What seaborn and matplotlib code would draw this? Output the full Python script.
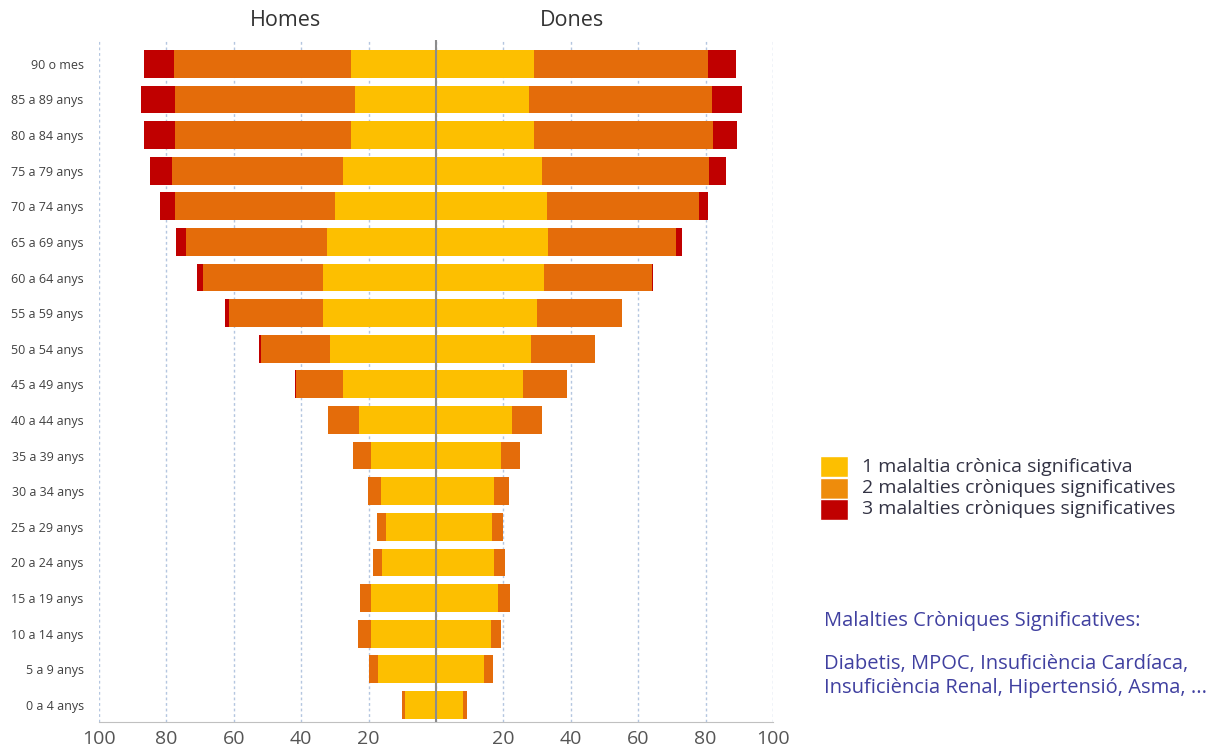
import matplotlib
matplotlib.use("Agg")
import matplotlib.pyplot as plt
from matplotlib.patches import Rectangle
import numpy as np
import pandas as pd
import seaborn as sns

# age groups, top to bottom
ages = ['90 o mes', '85 a 89 anys', '80 a 84 anys', '75 a 79 anys', '70 a 74 anys',
        '65 a 69 anys', '60 a 64 anys', '55 a 59 anys', '50 a 54 anys', '45 a 49 anys',
        '40 a 44 anys', '35 a 39 anys', '30 a 34 anys', '25 a 29 anys', '20 a 24 anys',
        '15 a 19 anys', '10 a 14 anys', '5 a 9 anys', '0 a 4 anys']

# % with 1, 2 and 3 significant chronic diseases (men = Homes)
homes_1 = [25.3, 24.0, 25.3, 27.7, 30.0, 32.2, 33.5, 33.5, 31.5, 27.7,
           22.8, 19.3, 16.3, 14.7, 16.0, 19.3, 19.3, 17.1, 9.2]
homes_2 = [52.5, 53.3, 52.0, 50.5, 47.3, 41.9, 35.7, 27.9, 20.5, 13.8,
           9.1, 5.3, 4.0, 2.8, 2.8, 3.3, 3.7, 2.7, 1.0]
homes_3 = [8.7, 10.3, 9.2, 6.7, 4.6, 3.1, 1.8, 1.1, 0.5, 0.3,
           0, 0, 0, 0, 0, 0, 0, 0, 0]

# women = Dones
dones_1 = [29.1, 27.6, 29.1, 31.4, 32.8, 33.1, 32.0, 30.1, 28.3, 25.9,
           22.5, 19.2, 17.1, 16.5, 17.3, 18.3, 16.4, 14.2, 8.1]
dones_2 = [51.6, 54.4, 53.2, 49.7, 45.1, 38.1, 32.0, 25.2, 18.8, 12.9,
           9.1, 5.7, 4.6, 3.4, 3.1, 3.7, 2.9, 2.6, 1.2]
dones_3 = [8.3, 8.7, 7.1, 4.9, 2.9, 1.9, 0.5, 0, 0, 0,
           0, 0, 0, 0, 0, 0, 0, 0, 0]

legend_labels = ['1 malaltia crònica significativa',
                 '2 malalties cròniques significatives',
                 '3 malalties cròniques significatives']

c1, c2, c3 = '#FDBF00', '#E46C0A', '#C00000'

df = pd.DataFrame({'age': ages,
                   'h1': homes_1, 'h2': homes_2, 'h3': homes_3,
                   'd1': dones_1, 'd2': dones_2, 'd3': dones_3})
# cumulative lengths, men drawn to the left (negative)
df['h_c1'] = -df['h1']
df['h_c2'] = -(df['h1'] + df['h2'])
df['h_c3'] = -(df['h1'] + df['h2'] + df['h3'])
df['d_c1'] = df['d1']
df['d_c2'] = df['d1'] + df['d2']
df['d_c3'] = df['d1'] + df['d2'] + df['d3']

sns.set_style('white')
plt.rcParams['font.family'] = ['Open Sans', 'DejaVu Sans']

W, H = 1217, 749
fig = plt.figure(figsize=(W/100, H/100), dpi=100)
ax = fig.add_axes([99/W, 27/H, 674/W, 682/H])

for col, c in [('c3', c3), ('c2', c2), ('c1', c1)]:
    for side in ['h_', 'd_']:
        sns.barplot(data=df, x=side + col, y='age', order=ages, orient='h',
                    color=c, saturation=1, width=0.78, linewidth=0, ax=ax)

ax.set_xlim(-100, 100)
ax.set_ylim(18.48, -0.67)
ticks = np.arange(-100, 101, 20)
ax.set_xticks(ticks)
ax.set_xticklabels(['' if t == 0 else str(abs(t)) for t in ticks],
                   fontsize=14, color='#555555')
ax.tick_params(axis='x', length=5, color='#aaaaaa', pad=1)
ax.tick_params(axis='y', length=0, labelsize=9, labelcolor='#404040', pad=11)
ax.set_xlabel('')
ax.set_ylabel('')
ax.set_axisbelow(True)
ax.xaxis.grid(True, color='#b4c6e0', linestyle=(0, (2, 2)), linewidth=1)
ax.axvline(0, color='#8c8c8c', linewidth=1.5, zorder=5)
for s in ['top', 'right', 'left']:
    ax.spines[s].set_visible(False)
ax.spines['bottom'].set_color('#c0c0c0')

fig.text(285/W, 1 - 20/H, 'Homes', ha='center', va='center', fontsize=15.5, color='#333333')
fig.text(572/W, 1 - 20/H, 'Dones', ha='center', va='center', fontsize=15.5, color='#333333')

# legend drawn by hand so the rows sit as tight as in the original
leg_colors = [c1, '#EE8C0C', c3]
for i, (lab, c) in enumerate(zip(legend_labels, leg_colors)):
    top = 456 + i * 21.5
    fig.patches.append(Rectangle((820/W, 1 - (top + 21)/H), 28/W, 21/H,
                                 facecolor=c, transform=fig.transFigure, figure=fig))
    fig.text(862/W, 1 - (top + 10.5)/H, lab, fontsize=14, color='#333344', va='center')

blue = '#4040a0'
fig.text(824/W, 1 - 621/H, 'Malalties Cròniques Significatives:',
         fontsize=14.5, color=blue, va='center')
fig.text(824/W, 1 - 664/H, 'Diabetis, MPOC, Insuficiència Cardíaca,',
         fontsize=14.5, color=blue, va='center')
fig.text(824/W, 1 - 688/H, 'Insuficiència Renal, Hipertensió, Asma, ...',
         fontsize=14.5, color=blue, va='center')

fig.savefig('out.png', dpi=100)
